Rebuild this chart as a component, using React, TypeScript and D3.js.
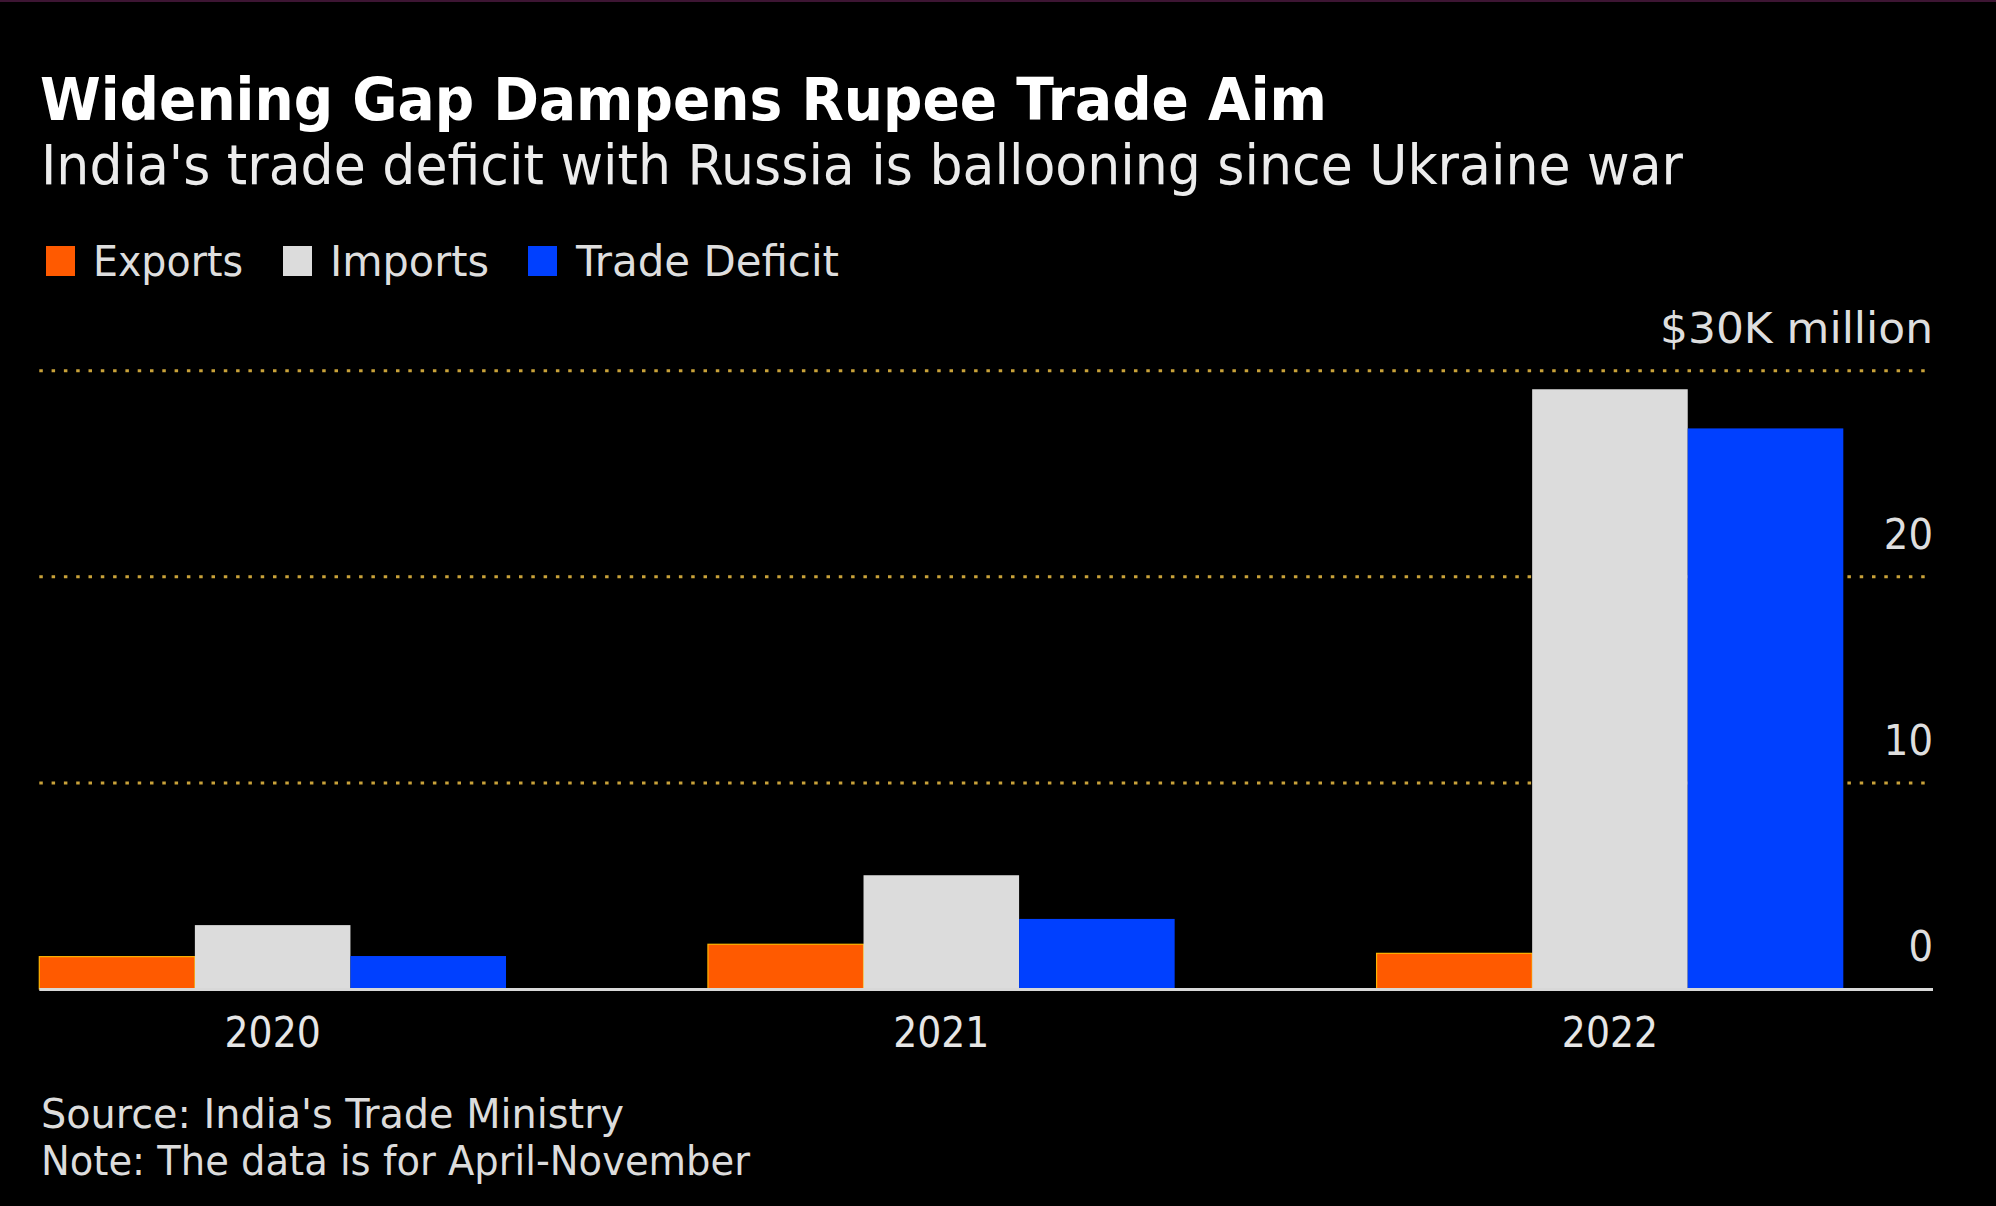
import React from "react";
import * as d3 from "d3";

const years = ["2020", "2021", "2022"];
const seriesNames = ["Exports", "Imports", "Trade Deficit"];
const exportsVals = [1.57, 2.17, 1.73];
const importsVals = [3.1, 5.52, 29.1];
const deficitVals = [1.6, 3.4, 27.2];
const yTicks = [0, 10, 20, 30];
const yTickLabels = ["0", "10", "20", "$30K million"];
const title = "Widening Gap Dampens Rupee Trade Aim";
const subtitle = "India's trade deficit with Russia is ballooning since Ukraine war";
const sourceText = "Source: India's Trade Ministry";
const noteText = "Note: The data is for April-November";

const W = 1996;
const H = 1206;
const colors = ["#ff5a00", "#dcdcdc", "#0040ff"];
const FONT = "'DejaVu Sans Condensed', 'DejaVu Sans', sans-serif";

export default function App() {
  const plotLeft = 39.3;
  const plotRight = 1933;
  const x0 = d3.scaleBand<string>().domain(years).range([39.3, 1843.3]).paddingInner(0.302).paddingOuter(0);
  const x1 = d3.scaleBand<string>().domain(seriesNames).range([0, x0.bandwidth()]).padding(0);
  const y = d3.scaleLinear().domain([0, 30]).range([989, 370.7]);
  const series = [exportsVals, importsVals, deficitVals];

  const legendItems = [
    { sq: 46, tx: 93, tw: 150 },
    { sq: 283, tx: 330, tw: 159 },
    { sq: 528, tx: 576, tw: 263 },
  ];

  return (
    <svg width={W} height={H} style={{ position: "absolute", left: 0, top: 0, background: "#000" }} fontFamily={FONT}>
      <rect x={0} y={0} width={W} height={H} fill="#000" />
      <rect x={0} y={0} width={W} height={2} fill="#3d1533" />
      <text x={40} y={120} fill="#ffffff" fontSize={59} fontWeight="bold" textLength={1287} lengthAdjust="spacingAndGlyphs" fontFamily="'DejaVu Sans', sans-serif">{title}</text>
      <text x={41} y={184} fill="#ececec" fontSize={55} textLength={1642} lengthAdjust="spacingAndGlyphs">{subtitle}</text>

      {seriesNames.map((s, i) => (
        <g key={s}>
          <rect x={legendItems[i].sq} y={246} width={29} height={30} fill={colors[i]} />
          <text x={legendItems[i].tx} y={276} fill="#dedede" fontSize={42} textLength={legendItems[i].tw} lengthAdjust="spacingAndGlyphs">{s}</text>
        </g>
      ))}

      {yTicks.filter((t) => t > 0).map((t) => (
        <line key={t} x1={plotLeft} x2={1930} y1={y(t)} y2={y(t)} stroke="#c9a23a" strokeWidth={3} strokeDasharray="3.5 8.8" />
      ))}

      {years.map((yr, gi) => (
        <g key={yr} transform={`translate(${x0(yr)},0)`}>
          {seriesNames.map((s, si) => {
            const v = series[si][gi];
            return (
              <rect
                key={s}
                x={x1(s)}
                y={y(v)}
                width={x1.bandwidth()}
                height={y(0) - y(v)}
                fill={colors[si]}
                stroke={si === 0 ? "#ffb400" : "none"}
                strokeWidth={si === 0 ? 1.2 : 0}
              />
            );
          })}
        </g>
      ))}

      <line x1={plotLeft} x2={plotRight} y1={989.5} y2={989.5} stroke="#d8d8d8" strokeWidth={3} />

      {yTicks.map((t, i) => (
        <text key={t} x={1933} y={y(t) - 28} fill="#dedede" fontSize={43} textAnchor="end" {...(i === 3 ? { textLength: 273, lengthAdjust: "spacingAndGlyphs" } : {})}>
          {yTickLabels[i]}
        </text>
      ))}

      {years.map((yr) => (
        <text key={yr} x={(x0(yr) as number) + x0.bandwidth() / 2} y={1047} fill="#e6e6e6" fontSize={42} textAnchor="middle">
          {yr}
        </text>
      ))}

      <text x={41} y={1128} fill="#dcdcdc" fontSize={41} textLength={583} lengthAdjust="spacingAndGlyphs">{sourceText}</text>
      <text x={41} y={1175} fill="#dcdcdc" fontSize={41} textLength={709} lengthAdjust="spacingAndGlyphs">{noteText}</text>
    </svg>
  );
}
